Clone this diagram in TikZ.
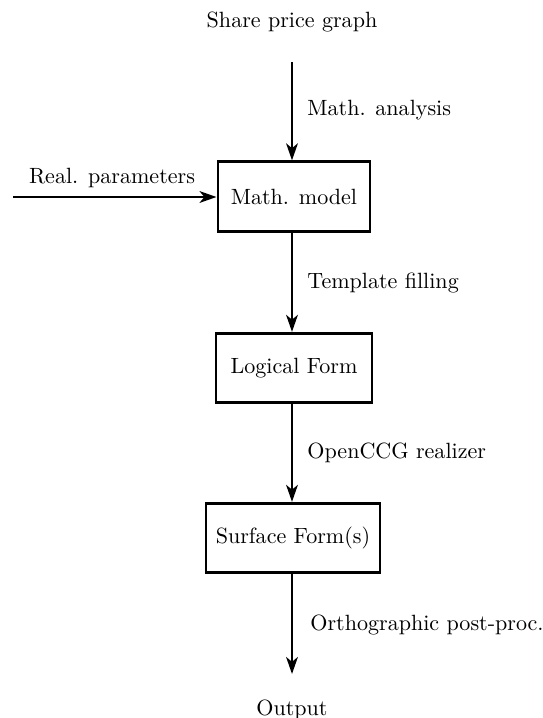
\documentclass[tikz,border=0pt]{standalone}
\usetikzlibrary{arrows.meta}
\begin{document}
\begin{tikzpicture}[x=0.476pt,y=-0.476pt,
  every node/.style={font=\fontsize{10.5}{12.6}\selectfont},
  box/.style={draw,line width=1.4pt,inner sep=0pt,minimum height=33pt},
  flow/.style={line width=1.4pt,-{Stealth[length=8pt,width=5.5pt,inset=2.2pt]}},
  lbl/.style={anchor=west,inner sep=0pt}]
\useasboundingbox (0,0) rectangle (542,718);
\node (in) at (292,22) {Share price graph};
\coordinate (intop) at (292,62);
\node[box,minimum width=152*0.476pt] (mm) at (294,196.5) {Math. model};
\node[box,minimum width=156*0.476pt] (lf) at (294,368) {Logical Form};
\node[box,minimum width=174*0.476pt] (sf) at (293,538) {Surface Form(s)};
\node (out) at (292,710) {Output};
\coordinate (outtip) at (292,674);
\coordinate (rpstart) at (13,197);
\node (rp) at (112,178) {Real. parameters};
\draw[flow] (intop) -- (intop |- mm.north);
\draw[flow] (rpstart) -- (mm.west |- rpstart);
\draw[flow] (mm.south -| intop) -- (lf.north -| intop);
\draw[flow] (lf.south -| intop) -- (sf.north -| intop);
\draw[flow] (sf.south -| intop) -- (outtip);
\node[lbl] (l1) at (307,110) {Math. analysis};
\node[lbl] (l2) at (307,283) {Template filling};
\node[lbl] (l3) at (307,453) {OpenCCG realizer};
\node[lbl] (l4) at (310,625) {Orthographic post-proc.};
\end{tikzpicture}
\end{document}
